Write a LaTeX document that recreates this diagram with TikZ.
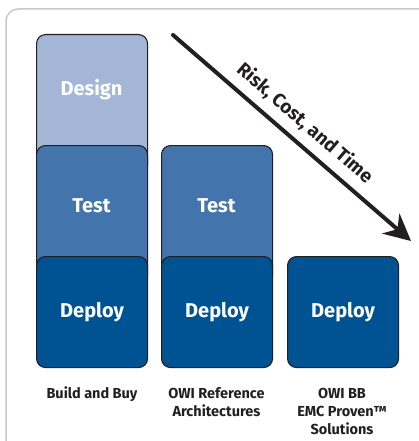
\documentclass[tikz,border=0pt]{standalone}
\usepackage{fontspec}
\setmainfont{Fira Sans}
\usetikzlibrary{arrows.meta}
\definecolor{designblue}{HTML}{A3B6D6}
\definecolor{testblue}{HTML}{4375AC}
\definecolor{deployblue}{HTML}{005393}
\definecolor{framegray}{HTML}{C9C9C9}
\definecolor{inkgray}{HTML}{231F20}
\begin{document}
\begin{tikzpicture}[x=1pt,y=-1pt,
	stage node/.style={draw=inkgray,line width=1.1pt,rounded corners=9pt,minimum width=111pt,inner sep=0pt,anchor=north west},
	stage text/.style={text=white,font=\fontsize{20}{24}\selectfont\bfseries},
	column label/.style={text=inkgray,align=center,anchor=north,inner sep=0pt,font=\fontsize{14.5}{18}\selectfont\bfseries}]
	\useasboundingbox (0,0) rectangle (419,441);
	\draw[framegray,line width=1.5pt,rounded corners=12pt] (6,9) rectangle (440,460);
	
	\node[stage node,fill=designblue,minimum height=140pt] at (36,34) (d1) {};
	\node[stage node,fill=testblue,minimum height=140pt] at (36,145) (t1) {};
	\node[stage node,fill=deployblue,minimum height=111pt] at (36,256) (p1) {};
	
	\node[stage node,fill=testblue,minimum height=140pt] at (161,145) (t2) {};
	\node[stage node,fill=deployblue,minimum height=111pt] at (161,256) (p2) {};
	
	\node[stage node,fill=deployblue,minimum height=111pt] at (287,256) (p3) {};
	
	\node[stage text] at (91.5,89.5) (dt1) {Design};
	\node[stage text] at (91.5,206) (tt1) {Test};
	\node[stage text] at (216.5,206) (tt2) {Test};
	\node[stage text] at (p1.center) (pt1) {Deploy};
	\node[stage text] at (p2.center) (pt2) {Deploy};
	\node[stage text] at (p3.center) (pt3) {Deploy};
	
	\node[column label] at (92,387) (l1) {Build and Buy};
	\node[column label] at (216.5,387) (l2) {OWI Reference\\Architectures};
	\node[column label] at (342,387.5) (l3) {OWI BB\\EMC Proven™\\Solutions};
	
	\coordinate (a1) at (173,35);
	\coordinate (a2) at (411,241);
	\draw[inkgray,line width=4pt,line cap=round,-{Stealth[length=27pt,width=27pt,inset=9pt,line width=0pt]}]
	(a1) -- node[sloped,above=5pt,text=inkgray,font=\fontsize{19}{22}\selectfont\bfseries] {Risk, Cost, and Time} (a2);
\end{tikzpicture}
\end{document}
